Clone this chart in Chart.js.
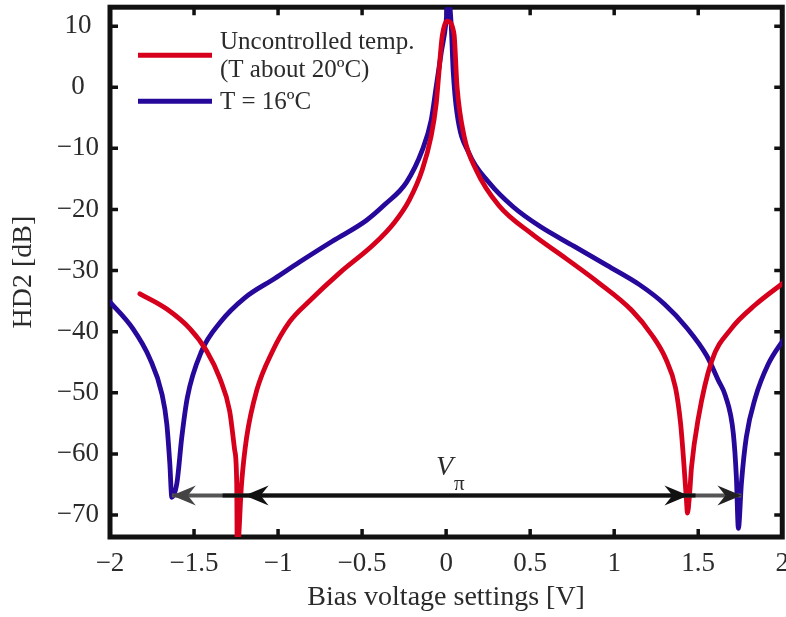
<!DOCTYPE html>
<html>
<head>
<meta charset="utf-8">
<script src="https://cdn.jsdelivr.net/npm/chart.js@4.4.1/dist/chart.umd.min.js"></script>
<style>
  html, body { margin: 0; padding: 0; background: #fff; overflow: hidden; }
  #wrap { position: relative; width: 786px; height: 617px; overflow: hidden; }
  #chart { position: absolute; left: 0; top: -20px; }
</style>
</head>
<body>
<div id="wrap"><canvas id="chart" width="800" height="640"></canvas></div>
<script>
const xTicks = [-2, -1.5, -1, -0.5, 0, 0.5, 1, 1.5, 2]
const yTicks = [-70, -60, -50, -40, -30, -20, -10, 0, 10]

// uncontrolled temperature (red)
const redX = [-1.822, -1.662, -1.525, -1.424, -1.347, -1.288, -1.258, -1.246, -1.243,
  -1.217, -1.187, -1.128, -1.033, -0.932, -0.81, -0.63, -0.43, -0.31, -0.220,
  -0.142, -0.089, -0.059, -0.042, -0.024, 0.008, 0.047, 0.065, 0.107, 0.178, 0.315,
  0.510, 0.712, 0.908, 1.104, 1.223, 1.306, 1.365, 1.395, 1.412, 1.430, 1.436,
  1.448, 1.460, 1.501, 1.579, 1.697, 1.840, 2.012]
const redY = [-33.8, -36.3, -39.5, -43.2, -47.6, -53.0, -59.4, -64.8, -76,
  -64.8, -57.3, -49.7, -43.2, -38.4, -34.9, -30.3, -25.7, -22.2, -18.5,
  -13.5, -8.0, -2.7, 2.7, 8.2, 10.8, 8.7, 0.1, -8.0, -13.5, -19.4,
  -24.0, -28.0, -32.0, -36.5, -40.5, -44.4, -49.2, -55.0, -60.6, -67.6, -69.7,
  -66.8, -62.2, -54.1, -44.9, -39.5, -35.6, -31.9]

// T = 16 ºC (blue)
const blueX = [-2.012, -1.864, -1.763, -1.691, -1.662, -1.644, -1.632, -1.602, -1.573,
  -1.54, -1.455, -1.345, -1.20, -1.02, -0.872, -0.677, -0.475, -0.365, -0.237,
  -0.142, -0.089, -0.059, -0.030, 0.0, 0.012, 0.030, 0.042, 0.065, 0.136, 0.255,
  0.40, 0.56, 0.76, 0.96, 1.15, 1.30, 1.43, 1.55, 1.62, 1.662, 1.709,
  1.727, 1.739, 1.757, 1.786, 1.840, 1.917, 2.012]
const blueY = [-34.8, -39.5, -44.4, -50.2, -55.1, -61.6, -67.1, -64.8, -57.3,
  -50.8, -43.2, -38.5, -34.5, -31.3, -28.6, -25.2, -21.8, -19.2, -15.6,
  -10.3, -5.4, 0.1, 5.5, 10.8, 15.2, 10.3, 2.7, -4.3, -10.8, -15.6,
  -19.6, -22.8, -26.0, -29.2, -32.3, -35.5, -39.3, -43.9, -48.0, -50.5, -56.7,
  -63.8, -72.2, -64.8, -57.3, -50.8, -45.3, -41.1]

const seriesNames = [['Uncontrolled temp.', '(T about 20ºC)'], ['T = 16ºC']]
const seriesColors = ['#d6001c', '#26089a']

// V_pi arrows, in data units
const arrowY = -66.8
const outerArrow = [-1.632, 1.757]   // between the two T=16ºC nulls
const innerLine = [-1.33, 1.484]
const innerHeads = [-1.199, 1.442]   // at the uncontrolled nulls
const vpiPos = [-0.06, -63.5]

const SERIF = '"Liberation Serif", "Times New Roman", serif'
const INK = '#2b2b2b'

function toPoints(xs, ys) {
  return xs.map((x, i) => ({ x: x, y: ys[i] }))
}

function arrowHead(ctx, x, y, dir, color) {
  const len = 24, half = 10, notch = 8
  ctx.fillStyle = color
  ctx.beginPath()
  ctx.moveTo(x, y)
  ctx.lineTo(x - dir * len, y - half)
  ctx.lineTo(x - dir * (len - notch), y)
  ctx.lineTo(x - dir * len, y + half)
  ctx.closePath()
  ctx.fill()
}

const frame = {
  id: 'frame',
  beforeDatasetsDraw(chart) {
    const { ctx, chartArea: a, scales: { x, y } } = chart
    ctx.save()
    ctx.strokeStyle = '#111'
    ctx.lineWidth = 5
    ctx.strokeRect(a.left, a.top, a.right - a.left, a.bottom - a.top)
    ctx.lineWidth = 3.5
    ctx.beginPath()
    xTicks.forEach(v => {
      const px = x.getPixelForValue(v)
      ctx.moveTo(px, a.bottom); ctx.lineTo(px, a.bottom - 8)
      ctx.moveTo(px, a.top); ctx.lineTo(px, a.top + 8)
    })
    yTicks.forEach(v => {
      const py = y.getPixelForValue(v)
      ctx.moveTo(a.left, py); ctx.lineTo(a.left + 8, py)
      ctx.moveTo(a.right, py); ctx.lineTo(a.right - 8, py)
    })
    ctx.stroke()
    ctx.restore()
  },
  afterDatasetsDraw(chart) {
    const { ctx, chartArea: a, scales: { x, y } } = chart
    ctx.save()
    const ay = y.getPixelForValue(arrowY)

    // gray outer arrow
    ctx.strokeStyle = '#555'
    ctx.lineWidth = 4
    ctx.beginPath()
    ctx.moveTo(x.getPixelForValue(outerArrow[0]), ay)
    ctx.lineTo(x.getPixelForValue(outerArrow[1]), ay)
    ctx.stroke()
    arrowHead(ctx, x.getPixelForValue(outerArrow[0]), ay, -1, '#444')
    arrowHead(ctx, x.getPixelForValue(outerArrow[1]), ay, 1, '#222')

    // black inner arrow
    ctx.strokeStyle = '#111'
    ctx.lineWidth = 4
    ctx.beginPath()
    ctx.moveTo(x.getPixelForValue(innerLine[0]), ay)
    ctx.lineTo(x.getPixelForValue(innerLine[1]), ay)
    ctx.stroke()
    arrowHead(ctx, x.getPixelForValue(innerHeads[0]), ay, -1, '#111')
    arrowHead(ctx, x.getPixelForValue(innerHeads[1]), ay, 1, '#111')

    // V_pi label
    const vx = x.getPixelForValue(vpiPos[0])
    const vy = y.getPixelForValue(vpiPos[1])
    ctx.fillStyle = INK
    ctx.textBaseline = 'alphabetic'
    ctx.font = 'italic 28px ' + SERIF
    ctx.fillText('V', vx, vy)
    ctx.font = '21px ' + SERIF
    ctx.fillText('π', vx + 18, vy + 15)

    // legend
    ctx.lineWidth = 5
    ctx.font = '25px ' + SERIF
    const lineY = [48, 94]
    const textY = [[42, 70], [102]]
    seriesNames.forEach((lines, i) => {
      ctx.strokeStyle = seriesColors[i]
      ctx.beginPath()
      ctx.moveTo(a.left + 28, a.top + lineY[i])
      ctx.lineTo(a.left + 102, a.top + lineY[i])
      ctx.stroke()
      lines.forEach((t, j) => ctx.fillText(t, a.left + 110, a.top + textY[i][j]))
    })
    ctx.restore()
  }
}

const minus = v => String(v).replace('-', '\u2212')

new Chart(document.getElementById('chart'), {
  type: 'line',
  data: {
    datasets: [
      { label: seriesNames[0].join(' '), data: toPoints(redX, redY), borderColor: seriesColors[0] },
      { label: seriesNames[1].join(' '), data: toPoints(blueX, blueY), borderColor: seriesColors[1] }
    ]
  },
  options: {
    responsive: false,
    animation: false,
    layout: { padding: { top: 23, right: 16, bottom: 0, left: 0 } },
    elements: {
      line: { borderWidth: 4.8, cubicInterpolationMode: 'monotone', borderJoinStyle: 'round', borderCapStyle: 'round' },
      point: { radius: 0 }
    },
    plugins: { legend: { display: false }, tooltip: { enabled: false } },
    scales: {
      x: {
        type: 'linear',
        min: -2, max: 2,
        afterBuildTicks: s => { s.ticks = xTicks.map(v => ({ value: v })) },
        afterFit: s => { s.height = 83 },
        grid: { display: false, drawTicks: false },
        border: { display: false },
        ticks: { padding: 11, autoSkip: false, maxRotation: 0, color: INK,
          font: { family: SERIF, size: 27 }, callback: v => minus(v) },
        title: { display: true, text: 'Bias voltage settings [V]', color: INK,
          font: { family: SERIF, size: 28 }, padding: { top: 0, bottom: 6 } }
      },
      y: {
        min: -73.6, max: 13.1,
        afterBuildTicks: s => { s.ticks = yTicks.map(v => ({ value: v })) },
        afterFit: s => { s.width = 110 },
        grid: { display: false, drawTicks: false },
        border: { display: false },
        ticks: { padding: 11, crossAlign: 'center', color: INK,
          font: { family: SERIF, size: 27 }, callback: v => minus(v) },
        title: { display: true, text: 'HD2 [dB]', color: INK,
          font: { family: SERIF, size: 28 }, padding: { top: 7, bottom: 0 } }
      }
    }
  },
  plugins: [frame]
})
</script>
</body>
</html>
